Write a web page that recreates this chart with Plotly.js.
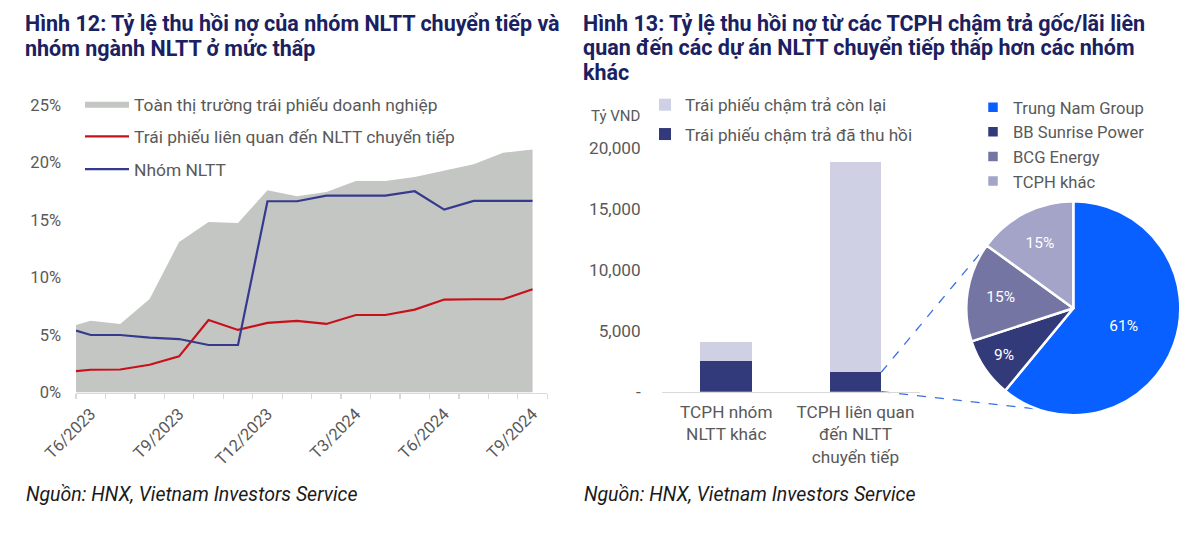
<!DOCTYPE html>
<html>
<head>
<meta charset="utf-8">
<script src="https://cdn.plot.ly/plotly-3.0.1.min.js"></script>
<style>html,body{margin:0;padding:0;background:#fff}#chart{width:1200px;height:547px}</style>
</head>
<body>
<div id="chart"></div>
<script>
// ---------- Hình 12 data ----------
const xPos = [-0.5, 0, 1, 2, 3, 4, 5, 6, 7, 8, 9, 10, 11, 12, 13, 14, 15];
const marketVals = [5.87, 6.25, 5.96, 8.14, 13.08, 14.83, 14.74, 17.59, 17.06, 17.44, 18.40, 18.40, 18.75, 19.33, 19.85, 20.84, 21.13];
const transitionVals = [1.86, 1.98, 2.0, 2.41, 3.14, 6.31, 5.44, 6.05, 6.22, 5.96, 6.74, 6.74, 7.21, 8.08, 8.11, 8.11, 8.98];
const nlttVals = [5.38, 5.0, 5.0, 4.77, 4.65, 4.13, 4.13, 16.63, 16.63, 17.12, 17.12, 17.12, 17.5, 15.9, 16.66, 16.66, 16.66];
const tickPos = [0, 3, 6, 9, 12, 15];
const tickLabels = ['T6/2023', 'T9/2023', 'T12/2023', 'T3/2024', 'T6/2024', 'T9/2024'];
const pctTicks = [0, 5, 10, 15, 20, 25];
const pctTickText = ['0%', '5%', '10%', '15%', '20%', '25%'];

// ---------- Hình 13 data ----------
const barCats = ['TCPH nhóm<br>NLTT khác', 'TCPH liên quan<br>đến NLTT<br>chuyển tiếp'];
const recovered = [2500, 1600];
const remaining = [1600, 17300];
const vndTicks = [0, 5000, 10000, 15000, 20000];
const vndTickText = ['-', '5,000', '10,000', '15,000', '20,000'];

const pieLabels = ['Trung Nam Group', 'BB Sunrise Power', 'BCG Energy', 'TCPH khác'];
const pieVals = [61, 9, 15, 15];

const title12 = ['Hình 12: Tỷ lệ thu hồi nợ của nhóm NLTT chuyển tiếp và', 'nhóm ngành NLTT ở mức thấp'];
const title13 = ['Hình 13: Tỷ lệ thu hồi nợ từ các TCPH chậm trả gốc/lãi liên', 'quan đến các dự án NLTT chuyển tiếp thấp hơn các nhóm', 'khác'];
const sourceText = 'Nguồn: HNX, Vietnam Investors Service';

// ---------- geometry (pixels, margins are 0 so paper = canvas) ----------
const W = 1200, H = 547;
const px = v => v / W, py = v => 1 - v / H;
const L = {x0: 76, x1: 547.3, yBot: 392.5, yTop: 105};
const B = {x0: 661.7, x1: 920, yBot: 391.7, yTop: 148.3};
const P = {cx: 1073.3, cy: 308.3, r: 107};

const grey = '#595959';
const font = 'Roboto, "Noto Sans", sans-serif';
const navy = '#1b2160';

const traces = [
  {x: xPos, y: marketVals, type: 'scatter', mode: 'lines', fill: 'tozeroy',
   fillcolor: '#c4c6c3', line: {width: 0, color: '#c4c6c3'},
   name: 'Toàn thị trường trái phiếu doanh nghiệp', legend: 'legend', legendgroup: 'a',
   xaxis: 'x', yaxis: 'y', hoverinfo: 'skip'},
  {x: xPos, y: transitionVals, type: 'scatter', mode: 'lines',
   line: {width: 2.2, color: '#c8101a'},
   name: 'Trái phiếu liên quan đến NLTT chuyển tiếp', legend: 'legend', legendgroup: 'b',
   xaxis: 'x', yaxis: 'y'},
  {x: xPos, y: nlttVals, type: 'scatter', mode: 'lines',
   line: {width: 2.2, color: '#363a8e'},
   name: 'Nhóm NLTT', legend: 'legend', legendgroup: 'c',
   xaxis: 'x', yaxis: 'y'},
  {x: barCats, y: recovered, type: 'bar', width: 0.4,
   marker: {color: '#333a7c'}, name: 'Trái phiếu chậm trả đã thu hồi',
   legend: 'legend2', legendgroup: 'd', legendrank: 2, xaxis: 'x2', yaxis: 'y2'},
  {x: barCats, y: remaining, type: 'bar', width: 0.4,
   marker: {color: '#cfd0e3'}, name: 'Trái phiếu chậm trả còn lại',
   legend: 'legend2', legendgroup: 'e', legendrank: 1, xaxis: 'x2', yaxis: 'y2'},
  {type: 'pie', labels: pieLabels, values: pieVals, sort: false, direction: 'clockwise', rotation: 0,
   marker: {colors: ['#0760ff', '#333a7a', '#7475a3', '#a3a4c7'], line: {color: '#ffffff', width: 2.5}},
   texttemplate: '%{value}%', textposition: 'inside', insidetextorientation: 'horizontal',
   textfont: {color: '#ffffff', size: 15.5, family: font},
   domain: {x: [px(P.cx - P.r), px(P.cx + P.r)], y: [py(P.cy + P.r), py(P.cy - P.r)]},
   legend: 'legend3', showlegend: true}
];

// connector lines from the bar (data-derived) to the pie (share-derived)
const barRightPx = B.x0 + (1 + 0.2 + 0.5) / 2 * (B.x1 - B.x0);
const recTopPx = B.yBot - recovered[1] / 20000 * (B.yBot - B.yTop);
const cumFrac = (pieVals[0] + pieVals[1] + pieVals[2]) / pieVals.reduce((a, b) => a + b, 0);
const angUp = cumFrac * 2 * Math.PI;
const angLow = 173 / 180 * Math.PI;
const upPt = [P.cx + P.r * Math.sin(angUp), P.cy - P.r * Math.cos(angUp)];
const lowPt = [P.cx + P.r * Math.sin(angLow), P.cy - P.r * Math.cos(angLow)];

const dashLine = {type: 'line', xref: 'paper', yref: 'paper', layer: 'below',
  line: {color: '#3b6fe6', width: 1.3, dash: 'dash'}};

const ann = (text, x, y, opts) => Object.assign({text, x: px(x), y: py(y), xref: 'paper', yref: 'paper',
  showarrow: false, xanchor: 'left', yanchor: 'middle', align: 'left'}, opts);

const titleFont = {size: 21.5, color: navy, family: font};
const srcFont = {size: 19.5, color: '#1a1a1a', family: font};
const annotations = [];
title12.forEach((t, i) => annotations.push(ann('<b>' + t + '</b>', 23, 23 + i * 25.5, {font: titleFont})));
title13.forEach((t, i) => annotations.push(ann('<b>' + t + '</b>', 581, 23 + i * 25, {font: titleFont})));
annotations.push(ann('<i>' + sourceText + '</i>', 24, 494, {font: srcFont}));
annotations.push(ann('<i>' + sourceText + '</i>', 582, 494, {font: srcFont}));
annotations.push(ann('Tỷ VND', 589, 116, {font: {size: 15, color: grey, family: font}}));

const layout = {
  width: W, height: H,
  margin: {l: 0, r: 0, t: 0, b: 0},
  paper_bgcolor: '#ffffff', plot_bgcolor: 'rgba(0,0,0,0)',
  font: {family: font, color: grey, size: 15},
  barmode: 'stack',
  xaxis: {domain: [px(L.x0), px(L.x1)], range: [-0.5, 15.5], showgrid: false, zeroline: false,
    showline: true, linecolor: '#d9d9d9', linewidth: 1.3,
    tickmode: 'array', tickvals: tickPos, ticktext: tickLabels, tickangle: -45, ticks: '',
    tickfont: {size: 16.5, color: grey}, ticklabelstandoff: 4,
    minor: {tick0: -0.5, dtick: 1, ticks: 'outside', ticklen: 5, tickcolor: '#d9d9d9', tickwidth: 1.3, showgrid: false}},
  yaxis: {domain: [py(L.yBot), py(L.yTop)], range: [0, 25], showgrid: false, zeroline: false,
    tickmode: 'array', tickvals: pctTicks, ticktext: pctTickText, ticks: '', ticklabelstandoff: 14,
    tickfont: {size: 16.5, color: grey}},
  xaxis2: {domain: [px(B.x0), px(B.x1)], range: [-0.5, 1.5], type: 'category', anchor: 'y2',
    showgrid: false, zeroline: false, showline: true, linecolor: '#d9d9d9', linewidth: 1.5, ticks: '',
    tickfont: {size: 17.2, color: grey}, ticklabelstandoff: 4},
  yaxis2: {domain: [py(B.yBot), py(B.yTop)], range: [0, 20000], anchor: 'x2', showgrid: false, zeroline: false,
    tickmode: 'array', tickvals: vndTicks, ticktext: vndTickText, ticks: '', ticklabelstandoff: 20,
    tickfont: {size: 17.2, color: grey}},
  legend: {x: px(80), y: py(86), xanchor: 'left', yanchor: 'top', bgcolor: 'rgba(0,0,0,0)',
    font: {size: 17.4, color: grey}, tracegroupgap: 7, itemwidth: 44, traceorder: 'grouped'},
  legend2: {x: px(645), y: py(87), xanchor: 'left', yanchor: 'top', bgcolor: 'rgba(0,0,0,0)',
    font: {size: 17.2, color: grey}, tracegroupgap: 4, itemwidth: 30, traceorder: 'grouped'},
  legend3: {x: px(973), y: py(90), xanchor: 'left', yanchor: 'top', bgcolor: 'rgba(0,0,0,0)',
    font: {size: 16.6, color: grey}, itemwidth: 30},
  shapes: [
    Object.assign({x0: px(barRightPx), y0: py(recTopPx), x1: px(upPt[0]), y1: py(upPt[1])}, dashLine),
    Object.assign({x0: px(barRightPx), y0: py(B.yBot), x1: px(lowPt[0]), y1: py(lowPt[1])}, dashLine)
  ],
  annotations: annotations
};

Plotly.newPlot('chart', traces, layout, {displayModeBar: false, staticPlot: true});
</script>
</body>
</html>
